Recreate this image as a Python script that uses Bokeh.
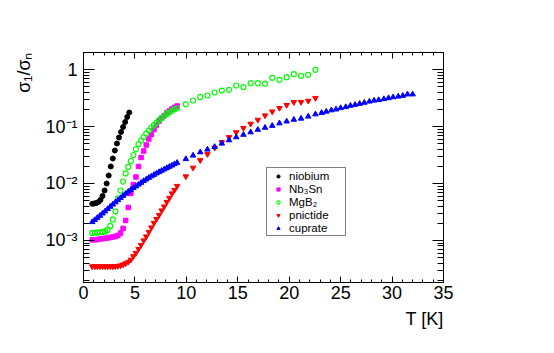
from bokeh.plotting import figure
from bokeh.models import (Range1d, LogAxis, LinearAxis, FixedTicker, Legend,
                          LegendItem, Title)
from bokeh.embed import file_html
from bokeh.resources import INLINE

# ---------------- data ----------------
nb_T = [0.85, 1.05, 1.25, 1.45, 1.65, 1.85, 2.05, 2.25, 2.45, 2.65, 2.85, 3.05,
        3.25, 3.45, 3.65, 3.85, 4.05, 4.25, 4.45]
niobium = [4.40e-3, 4.46e-3, 4.55e-3, 4.73e-3, 5.14e-3, 6.04e-3, 7.54e-3, 1.00e-2,
           1.38e-2, 1.99e-2, 2.75e-2, 3.79e-2, 5.03e-2, 6.41e-2, 8.02e-2, 9.80e-2,
           0.120, 0.147, 0.176]

T_low = [0.85, 1.1, 1.35, 1.6, 1.85, 2.1, 2.35, 2.6, 2.85, 3.1, 3.35, 3.6, 3.85,
         4.1, 4.35, 4.6, 4.85, 5.1, 5.35, 5.6, 5.85, 6.1, 6.35, 6.6, 6.85, 7.1,
         7.35, 7.6, 7.85, 8.1, 8.35, 8.6, 8.85, 9.1]
T_mid = [9.95, 10.65, 11.35, 12.05, 12.75, 13.45, 14.15, 14.85, 15.55, 16.25,
         16.95, 17.65, 18.35, 19.05, 19.75, 20.45, 21.15, 21.85, 22.55]
T_high = [23.15, 23.6, 24.1, 24.55, 25.0, 25.5, 25.95, 26.4, 26.85, 27.3, 27.8,
          28.25, 28.7, 29.2, 29.65, 30.1, 30.6, 31.05, 31.5, 32.0]

nb3sn = [1.025e-3, 1.03e-3, 1.04e-3, 1.06e-3, 1.08e-3, 1.09e-3, 1.11e-3, 1.13e-3,
         1.15e-3, 1.18e-3, 1.22e-3, 1.35e-3, 1.63e-3, 2.24e-3, 3.79e-3, 6.68e-3,
         9.60e-3, 1.30e-2, 1.99e-2, 2.86e-2, 3.72e-2, 4.73e-2, 6.04e-2, 7.24e-2,
         8.86e-2, 0.106, 0.125, 0.141, 0.156, 0.173, 0.187, 0.203, 0.216, 0.229]

mgb2_low = [1.355e-3, 1.365e-3, 1.38e-3, 1.39e-3, 1.41e-3, 1.44e-3, 1.53e-3, 1.80e-3,
            2.34e-3, 3.23e-3, 5.46e-3, 7.54e-3, 1.08e-2, 1.50e-2, 1.95e-2, 2.48e-2,
            3.16e-2, 4.03e-2, 4.93e-2, 5.68e-2, 6.54e-2, 7.54e-2, 8.51e-2, 9.60e-2,
            0.106, 0.117, 0.130, 0.141, 0.153, 0.166, 0.176, 0.188, 0.200, 0.209]
mgb2_mid = [0.245, 0.286, 0.330, 0.350, 0.395, 0.428, 0.441, 0.524, 0.493, 0.575,
            0.575, 0.568, 0.715, 0.660, 0.733, 0.828, 0.778, 0.807, 0.988]

pnic_low = [3.50e-4, 3.50e-4, 3.50e-4, 3.50e-4, 3.50e-4, 3.50e-4, 3.50e-4, 3.50e-4,
            3.50e-4, 3.52e-4, 3.57e-4, 3.64e-4, 3.79e-4, 3.95e-4, 4.20e-4, 4.58e-4,
            5.28e-4, 6.04e-4, 7.10e-4, 8.34e-4, 1.00e-3, 1.175e-3, 1.41e-3, 1.69e-3,
            2.03e-3, 2.38e-3, 2.80e-3, 3.36e-3, 3.95e-3, 4.73e-3, 5.57e-3, 6.68e-3,
            7.69e-3, 9.04e-3]
pnic_mid = [1.33e-2, 1.89e-2, 2.56e-2, 3.27e-2, 4.23e-2, 5.30e-2, 6.49e-2, 7.91e-2,
            9.41e-2, 0.1115, 0.131, 0.156, 0.183, 0.211, 0.238, 0.267, 0.269, 0.282,
            0.316]

cupr_low = [2.11e-3, 2.29e-3, 2.50e-3, 2.72e-3, 2.98e-3, 3.25e-3, 3.57e-3, 3.92e-3,
            4.28e-3, 4.68e-3, 5.11e-3, 5.57e-3, 6.09e-3, 6.62e-3, 7.18e-3, 7.75e-3,
            8.34e-3, 8.93e-3, 9.60e-3, 1.03e-2, 1.11e-2, 1.18e-2, 1.26e-2, 1.34e-2,
            1.42e-2, 1.51e-2, 1.59e-2, 1.68e-2, 1.77e-2, 1.87e-2, 1.97e-2, 2.07e-2,
            2.19e-2, 2.31e-2]
cupr_mid = [2.69e-2, 3.10e-2, 3.54e-2, 3.95e-2, 4.40e-2, 5.03e-2, 5.75e-2, 6.49e-2,
            7.18e-2, 7.94e-2, 8.79e-2, 9.53e-2, 0.103, 0.114, 0.123, 0.132, 0.138,
            0.150, 0.164]
cupr_high = [0.174, 0.183, 0.193, 0.200, 0.211, 0.220, 0.232, 0.241, 0.251, 0.262,
             0.275, 0.286, 0.292, 0.304, 0.316, 0.327, 0.336, 0.347, 0.367, 0.367]

x_major = [0, 5, 10, 15, 20, 25, 30, 35]
y_major = [1e-3, 1e-2, 1e-1, 1]
y_labels = ["10\u207b\u00b3", "10\u207b\u00b2", "10\u207b\u00b9", "1"]
series_names = ["niobium", "Nb\u2083Sn", "MgB\u2082", "pnictide", "cuprate"]

# ---------------- figure ----------------
FONT = "Liberation Sans"
p = figure(width=554, height=353, output_backend="svg", toolbar_location=None,
           x_range=Range1d(0, 35), y_range=Range1d(1.83e-4, 1.99),
           y_axis_type="log", x_axis_location=None, y_axis_location=None,
           min_border_left=83, min_border_right=111, min_border_top=52,
           min_border_bottom=71)
p.grid.visible = False
p.outline_line_color = "black"
p.outline_line_width = 1
p.background_fill_color = "white"
p.border_fill_color = "white"

x_minor = [v for v in range(0, 36)]
y_minor = [m * 10.0 ** e for e in range(-4, 1) for m in range(2, 10)
           if 1.83e-4 <= m * 10.0 ** e <= 1.99]


def style(ax, major, minor):
    ax.axis_line_color = "black"
    ax.major_tick_line_color = "black"
    ax.minor_tick_line_color = "black"
    ax.major_tick_out = 0
    ax.minor_tick_out = 0
    ax.major_tick_in = major
    ax.minor_tick_in = minor
    ax.major_label_text_font = FONT
    ax.major_label_text_font_size = "18px"
    ax.major_label_text_color = "black"


bottom = LinearAxis(ticker=FixedTicker(ticks=x_major, minor_ticks=x_minor))
style(bottom, 6, 3)
bottom.major_label_standoff = 3
p.add_layout(bottom, "below")

top = LinearAxis(ticker=FixedTicker(ticks=x_major, minor_ticks=x_minor),
                 major_label_overrides={v: "" for v in x_major})
style(top, 6, 3)
p.add_layout(top, "above")

left = LogAxis(ticker=FixedTicker(ticks=y_major, minor_ticks=y_minor),
               major_label_overrides=dict(zip(y_major, y_labels)))
style(left, 11, 6)
left.major_label_standoff = 6
p.add_layout(left, "left")

right = LogAxis(ticker=FixedTicker(ticks=y_major, minor_ticks=y_minor),
                major_label_overrides={v: "" for v in y_major})
style(right, 11, 6)
p.add_layout(right, "right")

# axis titles (ROOT style: placed at the end of each axis)
p.add_layout(Title(text="T [K]", align="right", text_font=FONT,
                   text_font_size="18px", text_font_style="normal",
                   text_color="black", standoff=10), "below")
p.add_layout(Title(text="\u03c3\u2081/\u03c3\u2099", align="right", text_font=FONT,
                   text_font_size="18px", text_font_style="normal",
                   text_color="black", standoff=17), "left")

# ---------------- data marks ----------------
r_nb = p.scatter(nb_T, niobium, marker="circle", size=5, color="black")
r_sn = p.scatter(T_low, nb3sn, marker="square", size=4.5, color="#ff00ff")
r_mg = p.scatter(T_low + T_mid, mgb2_low + mgb2_mid, marker="circle", size=5,
                 fill_color=None, line_color="#00ff00", line_width=1.2)
r_pn = p.scatter(T_low + T_mid, pnic_low + pnic_mid, marker="inverted_triangle",
                 size=5.5, color="#ff0000")
r_cu = p.scatter(T_low + T_mid + T_high, cupr_low + cupr_mid + cupr_high,
                 marker="triangle", size=5.5, color="#0000ff")

legend = Legend(items=[LegendItem(label=n, renderers=[r])
                       for n, r in zip(series_names, [r_nb, r_sn, r_mg, r_pn, r_cu])],
                location=(183, 46), orientation="vertical",
                label_text_font=FONT, label_text_font_size="11.5px",
                label_text_color="black",
                glyph_width=20, glyph_height=8, label_height=13, label_width=55,
                label_standoff=1, spacing=0, padding=1, margin=0,
                border_line_color="black", border_line_width=1,
                background_fill_color="white", background_fill_alpha=1)
p.add_layout(legend)

open("out.html", "w").write(file_html(p, INLINE))
